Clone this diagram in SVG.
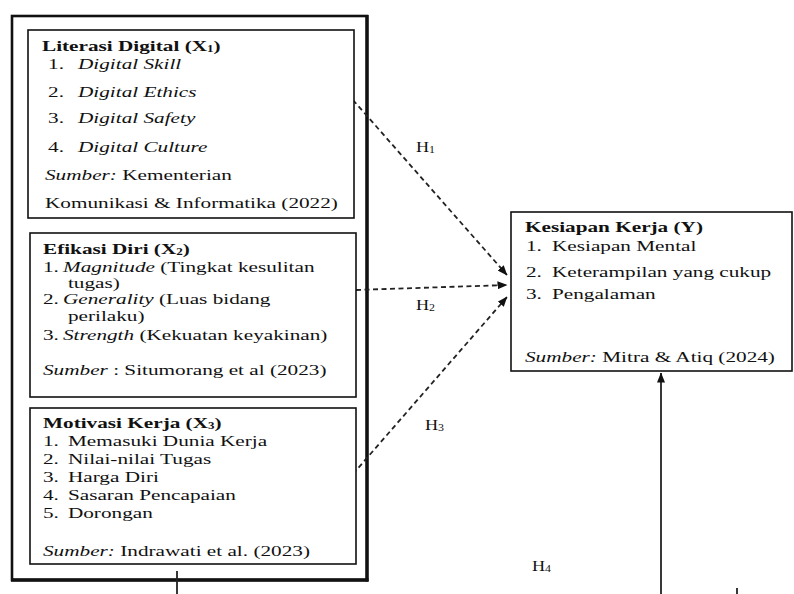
<svg xmlns="http://www.w3.org/2000/svg" width="794" height="594" viewBox="0 0 794 594">
<defs>
<marker id="ah" markerWidth="10" markerHeight="8" refX="9.5" refY="4" orient="auto" markerUnits="userSpaceOnUse"><path d="M0,0 L10,4 L0,8 z" fill="#111"/></marker>
<style>
text{font-family:"Liberation Serif","Times New Roman",serif;font-size:15.5px;fill:#111}
.b{font-weight:bold}
.i{font-style:italic}
.sub{font-size:9.5px}
.box{fill:#fff;stroke:#111;stroke-width:1.6}
.dash{fill:none;stroke:#222;stroke-width:1.8;stroke-dasharray:5 3.5}
.solid{fill:none;stroke:#222;stroke-width:1.8}
.h{font-size:14.5px}
</style>
</defs>
<rect width="794" height="594" fill="#fff"/>
<g id="frame">
<rect x="12" y="16" width="355" height="564" fill="none" stroke="#111" stroke-width="2.6"/>
<line x1="367" y1="15" x2="367" y2="581.5" stroke="#111" stroke-width="3.4"/>
<line x1="11" y1="580" x2="368.5" y2="580" stroke="#111" stroke-width="3.4"/>
</g>
<g id="connectors">
<line class="dash" x1="353" y1="100" x2="507" y2="275" marker-end="url(#ah)"/>
<line class="dash" x1="356" y1="290" x2="507" y2="285" marker-end="url(#ah)"/>
<line class="dash" x1="353" y1="474" x2="507" y2="297" marker-end="url(#ah)"/>
<line class="solid" x1="661" y1="594" x2="661" y2="373" marker-end="url(#ah)"/>
<line class="solid" x1="177" y1="571" x2="177" y2="594"/>
<line class="solid" x1="737" y1="588" x2="737" y2="594"/>
<g transform="translate(416 152) scale(1.25 1)"><text class="h">H<tspan class="sub" dy="1">1</tspan></text></g>
<g transform="translate(416 310) scale(1.25 1)"><text class="h">H<tspan class="sub" dy="1">2</tspan></text></g>
<g transform="translate(425 430) scale(1.25 1)"><text class="h">H<tspan class="sub" dy="1">3</tspan></text></g>
<g transform="translate(532 571) scale(1.25 1)"><text class="h">H<tspan class="sub" dy="1">4</tspan></text></g>
</g>
<g id="x1">
<rect class="box" x="28" y="30" width="326" height="188"/>
<g transform="translate(42 0) scale(1.37 1)">
<text class="b" x="0" y="51">Literasi Digital (X<tspan class="sub" dy="1">1</tspan><tspan dy="-1">)</tspan></text>
<text y="69"><tspan x="4.4">1.</tspan><tspan x="26.3" class="i">Digital Skill</tspan></text>
<text y="97"><tspan x="4.4">2.</tspan><tspan x="26.3" class="i">Digital Ethics</tspan></text>
<text y="123"><tspan x="4.4">3.</tspan><tspan x="26.3" class="i">Digital Safety</tspan></text>
<text y="152"><tspan x="4.4">4.</tspan><tspan x="26.3" class="i">Digital Culture</tspan></text>
<text x="2.2" y="180"><tspan class="i">Sumber:</tspan> Kementerian</text>
<text x="2.2" y="208">Komunikasi &amp; Informatika (2022)</text>
</g>
</g>
<g id="x2">
<rect class="box" x="30" y="233" width="326" height="164"/>
<g transform="translate(43 0) scale(1.37 1)">
<text class="b" x="0" y="254">Efikasi Diri (X<tspan class="sub" dy="1">2</tspan><tspan dy="-1">)</tspan></text>
<text y="272"><tspan x="0">1.</tspan><tspan x="14.6"><tspan class="i">Magnitude</tspan> (Tingkat kesulitan</tspan></text>
<text x="18.2" y="288">tugas)</text>
<text y="304"><tspan x="0">2.</tspan><tspan x="14.6"><tspan class="i">Generality</tspan> (Luas bidang</tspan></text>
<text x="18.2" y="321">perilaku)</text>
<text y="340"><tspan x="0">3.</tspan><tspan x="14.6"><tspan class="i">Strength</tspan> (Kekuatan keyakinan)</tspan></text>
<text x="0" y="375"><tspan class="i">Sumber</tspan> : Situmorang et al (2023)</text>
</g>
</g>
<g id="x3">
<rect class="box" x="30" y="408" width="326" height="156"/>
<g transform="translate(43 0) scale(1.37 1)">
<text class="b" x="0" y="428">Motivasi Kerja (X<tspan class="sub" dy="1">3</tspan><tspan dy="-1">)</tspan></text>
<text y="446"><tspan x="0">1.</tspan><tspan x="18.2">Memasuki Dunia Kerja</tspan></text>
<text y="464"><tspan x="0">2.</tspan><tspan x="18.2">Nilai-nilai Tugas</tspan></text>
<text y="482"><tspan x="0">3.</tspan><tspan x="18.2">Harga Diri</tspan></text>
<text y="500"><tspan x="0">4.</tspan><tspan x="18.2">Sasaran Pencapaian</tspan></text>
<text y="518"><tspan x="0">5.</tspan><tspan x="18.2">Dorongan</tspan></text>
<text x="0" y="556"><tspan class="i">Sumber:</tspan> Indrawati et al. (2023)</text>
</g>
</g>
<g id="y">
<rect class="box" x="511" y="212" width="281" height="159"/>
<g transform="translate(525 0) scale(1.37 1)">
<text class="b" x="0" y="232">Kesiapan Kerja (Y)</text>
<text y="251"><tspan x="0.7">1.</tspan><tspan x="19.7">Kesiapan Mental</tspan></text>
<text y="277"><tspan x="0.7">2.</tspan><tspan x="19.7">Keterampilan yang cukup</tspan></text>
<text y="299"><tspan x="0.7">3.</tspan><tspan x="19.7">Pengalaman</tspan></text>
<text x="0" y="362"><tspan class="i">Sumber:</tspan> Mitra &amp; Atiq (2024)</text>
</g>
</g>
</svg>
